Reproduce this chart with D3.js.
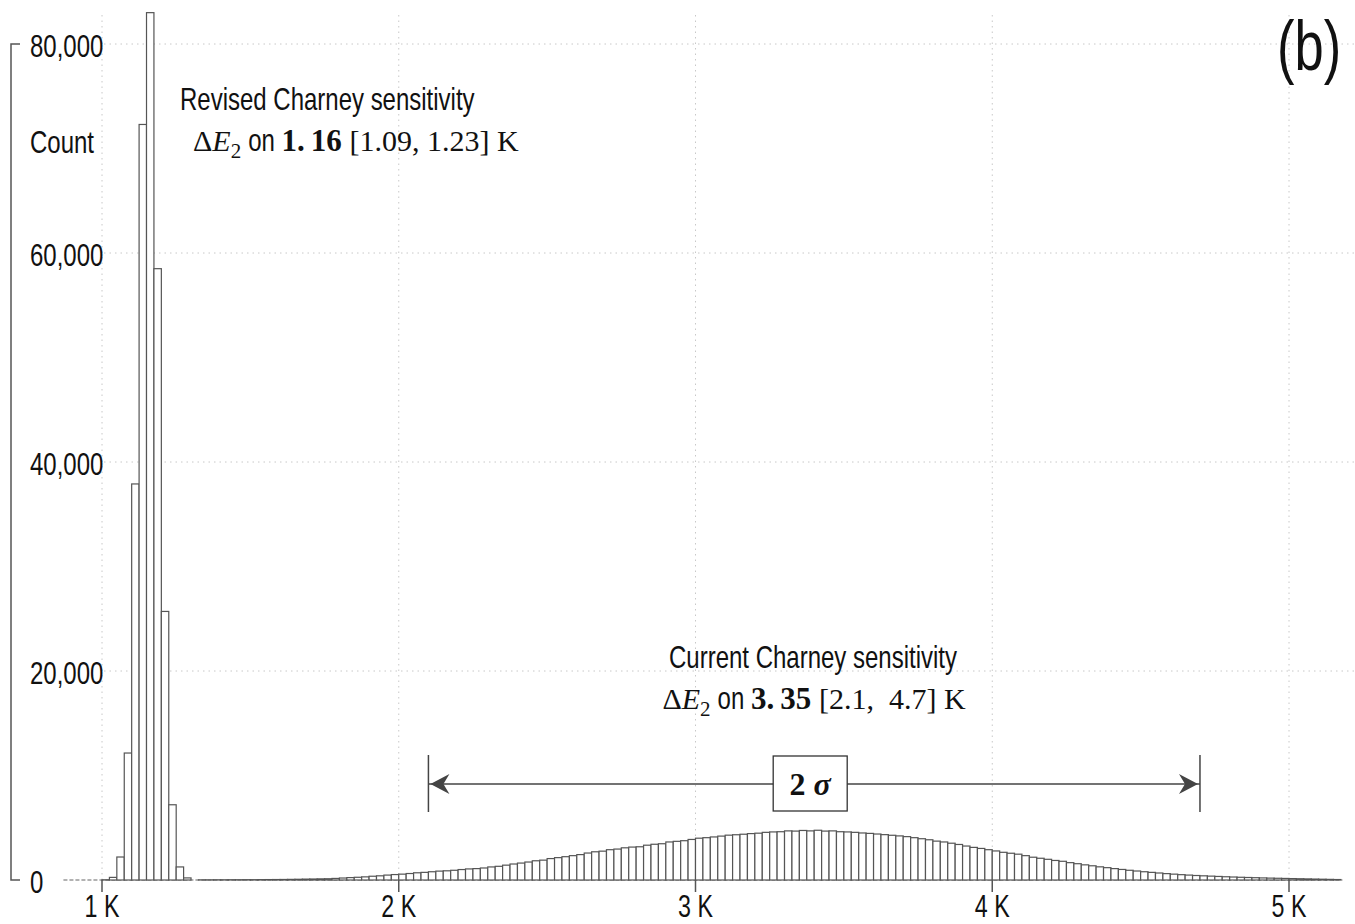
<!DOCTYPE html>
<html>
<head>
<meta charset="utf-8">
<script src="https://cdn.jsdelivr.net/npm/d3@7"></script>
<style>
  body { margin: 0; background: #fff; }
  svg { display: block; }
  text { white-space: pre; }
  .sans { font-family: "Liberation Sans", Arial, sans-serif; fill: #111; }
  .math { font-family: "Liberation Serif", "DejaVu Serif", serif; fill: #111; }
</style>
</head>
<body>
<div id="chart"></div>
<script>
// Chart size
var svgWidth = 1355;
var svgHeight = 924;

// Histogram bins (K), all bins 0.025 K wide
var binWidth = 0.025;

// Revised Charney sensitivity, first bin starts at 1.000 K
var revisedStart = 1.0;
var revisedCounts = [20, 250, 2200, 12150, 37900, 72300, 83000, 58500, 25700, 7200, 1250, 200];

// Current Charney sensitivity, first bin starts at 1.300 K
var currentStart = 1.3;
var currentCounts = [
  0, 15, 15, 20, 20, 25, 25, 30, 30, 35, 40, 45, 50, 60, 70, 85,
  95, 110, 120, 150, 190, 230, 260, 300, 360, 400, 470, 520, 560, 620, 690, 730,
  790, 850, 880, 930, 1000, 1060, 1090, 1150, 1250, 1310, 1420, 1530, 1620, 1720, 1840, 1900,
  2050, 2140, 2230, 2330, 2430, 2580, 2700, 2760, 2900, 2960, 3080, 3150, 3180, 3330, 3420, 3470,
  3640, 3700, 3760, 3880, 4000, 4050, 4120, 4200, 4290, 4330, 4380, 4440, 4480, 4560, 4600, 4620,
  4700, 4680, 4740, 4700, 4760, 4680, 4700, 4620, 4600, 4560, 4500, 4460, 4400, 4340, 4280, 4220,
  4150, 4050, 3950, 3850, 3720, 3640, 3520, 3400, 3250, 3120, 3020, 2900, 2780, 2650, 2560, 2470,
  2330, 2180, 2080, 1980, 1870, 1790, 1660, 1560, 1450, 1360, 1260, 1180, 1090, 1010, 930, 860,
  790, 730, 670, 610, 560, 510, 470, 430, 400, 370, 340, 310, 285, 260, 240, 220,
  200, 180, 165, 150, 135, 120, 105, 90, 75, 60, 45
];

// Axis ticks
var xTicks = [1, 2, 3, 4, 5];
var xTickLabels = ["1 K", "2 K", "3 K", "4 K", "5 K"];
var yTicks = [0, 20000, 40000, 60000, 80000];

// 2 sigma interval of the current sensitivity
var sigmaInterval = [2.1, 4.7];

// the reference uses a narrow sans; squeeze Liberation Sans horizontally
var NARROW = 0.75;
var SANS_SIZE = 32;
var MATH_SIZE = 30;

var svg = d3.select("#chart")
  .append("svg")
  .attr("width", svgWidth)
  .attr("height", svgHeight);

svg.append("rect")
  .attr("width", svgWidth)
  .attr("height", svgHeight)
  .attr("fill", "#fff");

// Scales
var xScale = d3.scaleLinear().domain([1, 5]).range([102, 1289]);
var yScale = d3.scaleLinear().domain([0, 80000]).range([880, 44]);

function narrowText(x, y, str, size, anchor) {
  return svg.append("text")
    .attr("class", "sans")
    .attr("text-anchor", anchor || "start")
    .attr("transform", `translate(${x},${y}) scale(${NARROW},1)`)
    .style("font-size", (size || SANS_SIZE) + "px")
    .text(str);
}

// lays out pieces of mixed text one after another
function segText(x, y, anchor, segs) {
  var g = svg.append("g");
  var cursor = 0;
  segs.forEach(function(s) {
    var sx = s.sx || 1;
    var t = g.append("text")
      .attr("class", s.cls)
      .style("font-size", s.size + "px")
      .style("font-weight", s.bold ? "bold" : "normal")
      .style("font-style", s.italic ? "italic" : "normal")
      .text(s.text);
    var w = t.node().getComputedTextLength() * sx;
    t.attr("transform", `translate(${cursor},${s.dy || 0}) scale(${sx},1)`);
    cursor += w + (s.gap || 0);
  });
  var shift = anchor === "middle" ? -cursor / 2 : 0;
  g.attr("transform", `translate(${x + shift},${y})`);
  return g;
}

// Grid lines
var grid = svg.append("g")
  .attr("stroke", "#c8c8c8")
  .attr("stroke-width", 1)
  .attr("stroke-dasharray", "1.5,4");

grid.selectAll(".hgrid")
  .data(yTicks.filter(d => d > 0))
  .enter()
  .append("line")
  .attr("x1", 104)
  .attr("x2", svgWidth)
  .attr("y1", d => yScale(d))
  .attr("y2", d => yScale(d));

grid.selectAll(".vgrid")
  .data(xTicks)
  .enter()
  .append("line")
  .attr("x1", d => xScale(d))
  .attr("x2", d => xScale(d))
  .attr("y1", 15)
  .attr("y2", yScale(0));

// Baseline of the histogram (dashed)
svg.append("line")
  .attr("x1", xScale(0.87))
  .attr("x2", xScale(5.18))
  .attr("y1", yScale(0))
  .attr("y2", yScale(0))
  .attr("stroke", "#666")
  .attr("stroke-width", 1.2)
  .attr("stroke-dasharray", "4,2");

// Bars
function drawBars(start, counts) {
  var bins = counts.map(function(c, i) {
    return { x0: start + i * binWidth, x1: start + (i + 1) * binWidth, count: c };
  }).filter(d => d.count > 0);

  svg.append("g")
    .selectAll("rect")
    .data(bins)
    .enter()
    .append("rect")
    .attr("x", d => xScale(d.x0))
    .attr("width", d => xScale(d.x1) - xScale(d.x0))
    .attr("y", d => yScale(d.count))
    .attr("height", d => yScale(0) - yScale(d.count))
    .attr("fill", "#fff")
    .attr("stroke", "#555")
    .attr("stroke-width", 1.2);
}
drawBars(revisedStart, revisedCounts);
drawBars(currentStart, currentCounts);

// Y axis: range-frame line with end ticks
svg.append("path")
  .attr("d", "M20," + yScale(80000) + "H11V" + yScale(0) + "H20")
  .attr("stroke", "#555")
  .attr("stroke-width", 1.5)
  .attr("fill", "none");

yTicks.forEach(function(d) {
  narrowText(30, yScale(d) + 13, d3.format(",")(d));
});
narrowText(30, 153, "Count");

// X axis ticks and labels
svg.append("g")
  .selectAll("line")
  .data(xTicks)
  .enter()
  .append("line")
  .attr("x1", d => xScale(d))
  .attr("x2", d => xScale(d))
  .attr("y1", yScale(0))
  .attr("y2", yScale(0) + 12)
  .attr("stroke", "#555")
  .attr("stroke-width", 1.5);

xTicks.forEach(function(d, i) {
  narrowText(xScale(d), 917, xTickLabels[i], 31, "middle");
});

// Panel label
narrowText(1277, 70, "(b)", 70);

// Annotations
narrowText(180, 110, "Revised Charney sensitivity");
segText(193, 151, "start", [
  { text: "Δ", cls: "math", size: MATH_SIZE },
  { text: "E", cls: "math", size: MATH_SIZE, italic: true },
  { text: "2", cls: "math", size: 21, dy: 7, gap: 7 },
  { text: "on ", cls: "sans", size: SANS_SIZE, sx: NARROW },
  { text: "1.", cls: "math", size: MATH_SIZE + 1, bold: true, gap: 6 },
  { text: "16 ", cls: "math", size: MATH_SIZE + 1, bold: true },
  { text: "[1.09, 1.23] K", cls: "math", size: MATH_SIZE }
]);

narrowText(813, 668, "Current Charney sensitivity", SANS_SIZE, "middle");
segText(814, 709, "middle", [
  { text: "Δ", cls: "math", size: MATH_SIZE },
  { text: "E", cls: "math", size: MATH_SIZE, italic: true },
  { text: "2", cls: "math", size: 21, dy: 7, gap: 7 },
  { text: "on ", cls: "sans", size: SANS_SIZE, sx: NARROW },
  { text: "3.", cls: "math", size: MATH_SIZE + 1, bold: true, gap: 6 },
  { text: "35 ", cls: "math", size: MATH_SIZE + 1, bold: true },
  { text: "[2.1,  4.7] K", cls: "math", size: MATH_SIZE }
]);

// 2 sigma interval marker
var arrowY = 784;
var arrowG = svg.append("g").attr("stroke", "#444").attr("stroke-width", 1.5);
arrowG.append("line")
  .attr("x1", xScale(sigmaInterval[0]))
  .attr("x2", xScale(sigmaInterval[1]))
  .attr("y1", arrowY)
  .attr("y2", arrowY);
arrowG.selectAll(".endbar")
  .data(sigmaInterval)
  .enter()
  .append("line")
  .attr("x1", d => xScale(d))
  .attr("x2", d => xScale(d))
  .attr("y1", arrowY - 29)
  .attr("y2", arrowY + 28);

// arrowheads pointing outward
svg.selectAll(".head")
  .data(sigmaInterval)
  .enter()
  .append("path")
  .attr("fill", "#444")
  .attr("d", function(d, i) {
    var tip = xScale(d) + (i === 0 ? 2 : -2);
    var dir = i === 0 ? 1 : -1;
    return "M" + tip + "," + arrowY +
      "L" + (tip + dir * 19) + "," + (arrowY - 10) +
      "L" + (tip + dir * 13) + "," + arrowY +
      "L" + (tip + dir * 19) + "," + (arrowY + 10) + "Z";
  });

var boxCx = xScale(d3.mean(sigmaInterval)) - 4;
svg.append("rect")
  .attr("x", boxCx - 37)
  .attr("y", 756)
  .attr("width", 74)
  .attr("height", 55)
  .attr("fill", "#fff")
  .attr("stroke", "#333")
  .attr("stroke-width", 1.3);

segText(boxCx, 795, "middle", [
  { text: "2 ", cls: "math", size: 32, bold: true },
  { text: "σ", cls: "math", size: 32, bold: true, italic: true }
]);
</script>
</body>
</html>
